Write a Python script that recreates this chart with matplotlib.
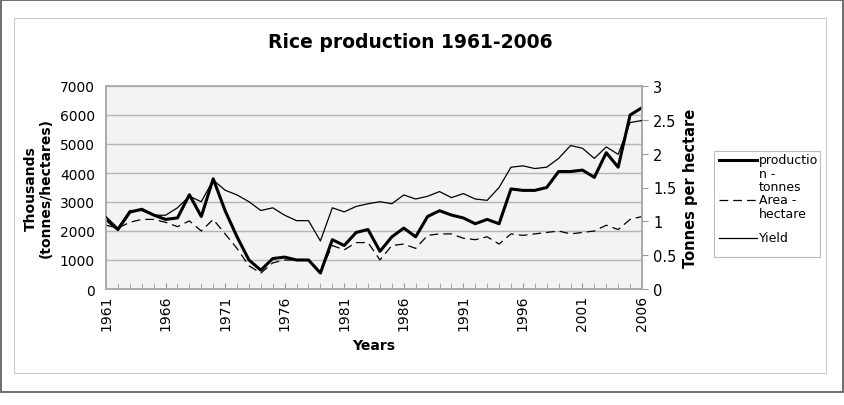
import matplotlib
matplotlib.use("Agg")
import matplotlib.pyplot as plt
from matplotlib.patches import Rectangle
from matplotlib.lines import Line2D

# data
years = list(range(1961, 2007))
production = [2400, 2050, 2650, 2750, 2550, 2400, 2450, 3250, 2500, 3800,
              2700, 1800, 1000, 650, 1050, 1100, 1000, 1000, 550, 1700,
              1500, 1950, 2050, 1300, 1800, 2100, 1800, 2500, 2700, 2550,
              2450, 2250, 2400, 2250, 3450, 3400, 3400, 3500, 4050, 4050,
              4100, 3850, 4700, 4200, 6000, 6250]
area = [2200, 2100, 2300, 2400, 2400, 2300, 2150, 2350, 2000, 2400,
        1900, 1400, 800, 550, 900, 1000, 1000, 1000, 600, 1500,
        1350, 1600, 1600, 1000, 1500, 1550, 1400, 1850, 1900, 1900,
        1750, 1700, 1800, 1550, 1900, 1850, 1900, 1950, 2000, 1900,
        1950, 2000, 2200, 2050, 2400, 2500]
yield_t = [1.07, 0.90, 1.16, 1.16, 1.09, 1.09, 1.20, 1.37, 1.29, 1.61,
           1.46, 1.39, 1.29, 1.16, 1.20, 1.09, 1.01, 1.01, 0.71, 1.20,
           1.14, 1.22, 1.26, 1.29, 1.26, 1.39, 1.33, 1.37, 1.44, 1.35,
           1.41, 1.33, 1.31, 1.50, 1.80, 1.82, 1.78, 1.80, 1.93, 2.12,
           2.08, 1.93, 2.10, 1.99, 2.46, 2.49]
label_years = list(range(1961, 2007, 5))
left_ticks = list(range(0, 7001, 1000))
right_ticks = [0, 0.5, 1, 1.5, 2, 2.5, 3]
right_labels = ["0", "0.5", "1", "1.5", "2", "2.5", "3"]
legend_labels = [["productio", "n -", "tonnes"], ["Area -", "hectare"], ["Yield"]]

W, H = 845, 406
fig = plt.figure(figsize=(W / 100, H / 100), dpi=100)
fig.patch.set_facecolor("white")

def fx(px):
    return px / W

def fy(py):
    return 1 - py / H

# outer frame and chart area frame
fig.add_artist(Rectangle((fx(1), fy(393)), 842 / W, 392 / H, transform=fig.transFigure,
                         fill=False, edgecolor="#555555", linewidth=1.2))
fig.add_artist(Rectangle((fx(14), fy(374)), 812 / W, 355 / H, transform=fig.transFigure,
                         fill=False, edgecolor="#cccccc", linewidth=0.8))

ax = fig.add_axes([fx(106), fy(290), 536 / W, 203 / H])
ax.set_facecolor("#f3f3f3")
ax2 = ax.twinx()

styles = [dict(color="black", linewidth=2.2),
          dict(color="black", linewidth=0.9, dashes=(7, 4)),
          dict(color="black", linewidth=0.9)]

ax.plot(years, production, zorder=3, **styles[0])
ax.plot(years, area, zorder=3, **styles[1])
ax2.plot(years, yield_t, zorder=3, **styles[2])

ax.set_xlim(1961, 2006)
ax.set_ylim(0, 7000)
ax2.set_ylim(0, 3)
ax.set_yticks(left_ticks)
ax.set_yticklabels([str(v) for v in left_ticks])
ax2.set_yticks(right_ticks)
ax2.set_yticklabels(right_labels)
ax.grid(axis="y", color="#b5b5b5", linewidth=1.0)
ax.set_axisbelow(True)

ax.set_xticks(label_years)
ax.set_xticklabels([str(y) for y in label_years], rotation=90)
ax.set_xticks(years, minor=True)
ax.tick_params(axis="x", which="both", direction="in", length=4, color="#999999",
               labelsize=10, pad=4)
ax.tick_params(axis="y", length=0, labelsize=10, pad=8)
ax2.tick_params(axis="y", direction="out", length=4, color="#999999", labelsize=10.5, pad=4)

for a in (ax, ax2):
    for s in a.spines.values():
        s.set_color("#aaaaaa")
        s.set_linewidth(1.2)
ax.spines["top"].set_color("#c8c8c8")

ax.set_xlabel("Years", fontsize=10, fontweight="bold", labelpad=6)
ax.set_ylabel("Thousands\n(tonnes/hectares)", fontsize=10, fontweight="bold",
              labelpad=5, linespacing=1.1)
ax2.set_ylabel("Tonnes per hectare", fontsize=10.5, fontweight="bold", labelpad=5)

fig.text(fx(410), fy(43), "Rice production 1961-2006", ha="center", va="center",
         fontsize=13.5, fontweight="bold")

# legend drawn by hand so the handles sit on the first text line
fig.add_artist(Rectangle((fx(714), fy(258)), 106 / W, 106 / H, transform=fig.transFigure,
                         facecolor="white", edgecolor="#bbbbbb", linewidth=0.8))
row_y = [161, 201, 239]
line_gap = 13.5
for st, lines, y0 in zip(styles, legend_labels, row_y):
    fig.add_artist(Line2D([fx(719), fx(757)], [fy(y0), fy(y0)], transform=fig.transFigure, **st))
    for i, t in enumerate(lines):
        fig.text(fx(759), fy(y0 + i * line_gap), t, ha="left", va="center", fontsize=9)

fig.savefig("out.png", dpi=100)
